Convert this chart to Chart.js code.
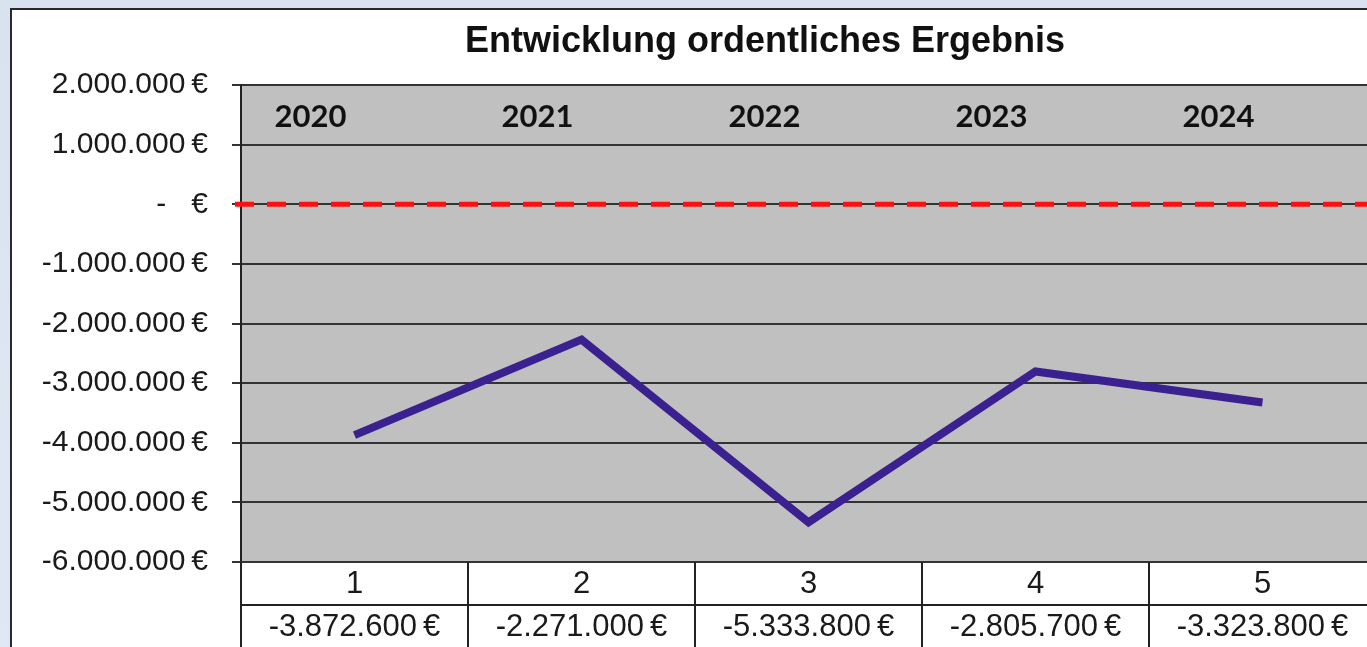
<!DOCTYPE html>
<html>
<head>
<meta charset="utf-8">
<script src="https://cdn.jsdelivr.net/npm/chart.js@4/dist/chart.umd.min.js"></script>
<style>
  html, body { margin: 0; padding: 0; overflow: hidden; }
  body { width: 1367px; height: 647px; background: linear-gradient(180deg, #d9e3f0, #dfe8f3); position: relative; }
  #box { position: absolute; left: 10px; top: 8px; width: 1400px; height: 700px; background: #fff; border: 2px solid #2a2a2a; }
  #c { position: absolute; left: 0; top: 0; }
</style>
</head>
<body>
<div id="box"></div>
<canvas id="c" width="1400" height="647"></canvas>
<script>
const chartTitle = 'Entwicklung ordentliches Ergebnis';
const periods = ['1', '2', '3', '4', '5'];
const years = ['2020', '2021', '2022', '2023', '2024'];
const ergebnis = [-3872600, -2271000, -5333800, -2805700, -3323800];
const yMin = -6000000, yMax = 2000000, yStep = 1000000;

function euro(v) {
    if (v === 0) return '-   \u20ac';
    const neg = v < 0;
    let s = Math.abs(Math.round(v)).toString().replace(/\B(?=(\d{3})+(?!\d))/g, '.');
    return (neg ? '-' : '') + s + '\u2009\u20ac';
}

const sheetPlugin = {
    id: 'sheet',
    beforeDraw(chart) {
        const { ctx, chartArea: a } = chart;
        ctx.save();
        ctx.fillStyle = '#c0c0c0';
        ctx.fillRect(a.left, a.top, a.right - a.left, a.bottom - a.top);
        ctx.restore();
    },
    beforeDatasetsDraw(chart) {
        const { ctx, chartArea: a, scales } = chart;
        const y0 = scales.y.getPixelForValue(0);
        ctx.save();
        ctx.strokeStyle = '#ff1010';
        ctx.lineWidth = 5;
        ctx.setLineDash([19, 13]);
        ctx.beginPath();
        ctx.moveTo(a.left - 6, y0);
        ctx.lineTo(a.right, y0);
        ctx.stroke();
        ctx.restore();
    },
    afterDraw(chart) {
        const { ctx, chartArea: a, scales } = chart;
        const x = scales.x;
        const colW = (a.right - a.left) / periods.length;
        ctx.save();
        // title
        ctx.fillStyle = '#111';
        ctx.font = 'bold 36px "Liberation Sans", Arial, sans-serif';
        ctx.textAlign = 'center';
        ctx.textBaseline = 'middle';
        ctx.fillText(chartTitle, 765, 42);
        // year labels inside the plot
        ctx.font = 'bold 31px Lato, "Open Sans", sans-serif';
        years.forEach((yr, i) => {
            ctx.fillText(yr, x.getPixelForValue(i) - 44, a.top + 32);
        });
        // data table below the plot
        const r1 = a.bottom + 43;
        ctx.strokeStyle = '#222';
        ctx.lineWidth = 2;
        ctx.beginPath();
        ctx.moveTo(a.left, r1);
        ctx.lineTo(a.right, r1);
        ctx.moveTo(a.left, a.bottom);
        ctx.lineTo(a.left, chart.height);
        for (let i = 1; i < periods.length; i++) {
            const bx = a.left + colW * i;
            ctx.moveTo(bx, a.bottom);
            ctx.lineTo(bx, chart.height);
        }
        ctx.stroke();
        ctx.fillStyle = '#1a1a1a';
        ctx.font = '31px "Liberation Sans", Arial, sans-serif';
        periods.forEach((p, i) => {
            const cx = x.getPixelForValue(i);
            ctx.fillText(p, cx, a.bottom + 22);
            ctx.fillText(euro(ergebnis[i]), cx, r1 + 22);
        });
        ctx.restore();
    }
};

new Chart(document.getElementById('c'), {
    type: 'line',
    data: {
        labels: periods,
        datasets: [{
            data: ergebnis,
            borderColor: '#3b2090',
            borderWidth: 8,
            pointRadius: 0,
            tension: 0,
            borderJoinStyle: 'miter'
        }]
    },
    options: {
        responsive: false,
        devicePixelRatio: 1,
        animation: false,
        layout: { padding: { top: 85, right: 24, bottom: 85, left: 0 } },
        plugins: { legend: { display: false }, title: { display: false }, tooltip: { enabled: false } },
        scales: {
            x: { type: 'category', offset: true, display: false },
            y: {
                min: yMin,
                max: yMax,
                afterFit(s) { s.width = 241; },
                ticks: {
                    stepSize: yStep,
                    padding: 24,
                    color: '#1a1a1a',
                    font: { family: '"Liberation Sans", Arial, sans-serif', size: 30 },
                    callback: v => euro(v)
                },
                grid: { color: '#333', lineWidth: 2, tickLength: 9 },
                border: { color: '#222', width: 2 }
            }
        }
    },
    plugins: [sheetPlugin]
});
</script>
</body>
</html>
